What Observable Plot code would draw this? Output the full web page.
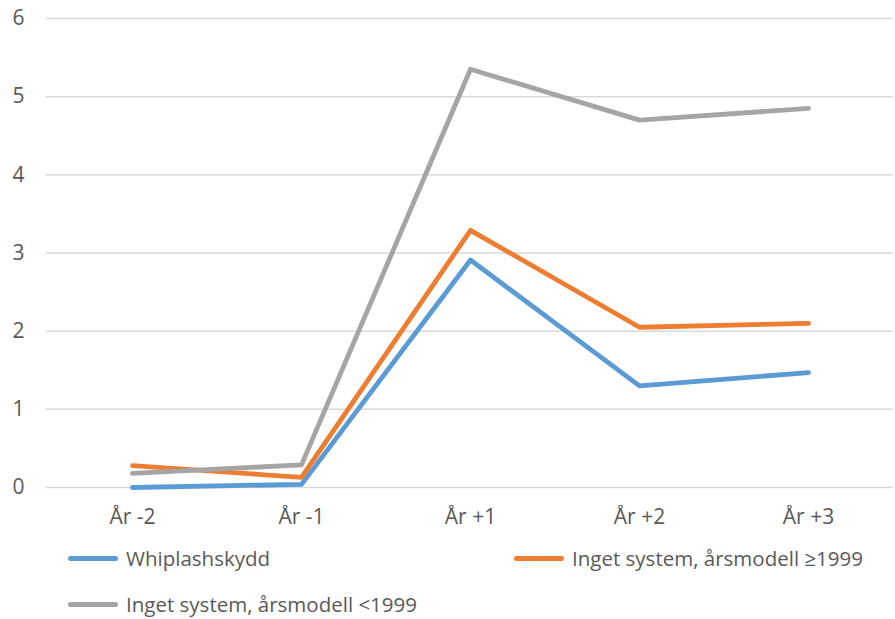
<!DOCTYPE html>
<html>
<head>
<meta charset="utf-8">
<script src="https://cdn.jsdelivr.net/npm/d3@7"></script>
<script src="https://cdn.jsdelivr.net/npm/@observablehq/plot@0.6"></script>
<style>
  body { margin: 0; background: #fff; font-family: "Open Sans", sans-serif; }
  #wrap { position: relative; width: 895px; height: 619px; }
  .leg { position: absolute; display: flex; align-items: center; font-size: 20.5px; line-height: 22px; height: 22px; color: #595959; white-space: nowrap; }
  .sw { width: 50px; height: 5px; border-radius: 3px; margin-right: 8px; }
</style>
</head>
<body>
<div id="wrap"></div>
<script>
const categories = ["År -2", "År -1", "År +1", "År +2", "År +3"];
const seriesNames = ["Whiplashskydd", "Inget system, årsmodell ≥1999", "Inget system, årsmodell <1999"];
const whiplash = [0.00, 0.04, 2.91, 1.30, 1.47];
const ingetNy = [0.28, 0.13, 3.29, 2.05, 2.10];
const ingetGammal = [0.18, 0.29, 5.35, 4.70, 4.85];
const colors = ["#5B9BD5", "#ED7D31", "#A5A5A5"];
const yTicks = [0, 1, 2, 3, 4, 5, 6];

const values = [whiplash, ingetNy, ingetGammal];
const data = [];
values.forEach((arr, si) => arr.forEach((v, i) => data.push({cat: categories[i], value: v, series: seriesNames[si]})));

const chart = Plot.plot({
  width: 895,
  height: 540,
  marginTop: 18,
  marginBottom: 53,
  marginLeft: 46,
  marginRight: 2,
  style: { fontFamily: "Open Sans, sans-serif", fontSize: "21px", color: "#595959", background: "transparent", overflow: "visible" },
  x: { type: "point", domain: categories, padding: 0.5, label: null },
  y: { domain: [0, 6], ticks: yTicks, label: null },
  color: { domain: seriesNames, range: colors },
  marks: [
    Plot.gridY(yTicks, { stroke: "#D9D9D9", strokeOpacity: 1, strokeWidth: 1.5 }),
    Plot.axisY(yTicks, { tickSize: 0, tickPadding: 22, tickFormat: d3.format("d"), fill: "#595959", fontSize: 21, label: null }),
    Plot.axisX({ tickSize: 0, tickPadding: 22, fill: "#595959", fontSize: 21, label: null }),
    Plot.line(data, { x: "cat", y: "value", z: "series", stroke: "series", strokeWidth: 4.8, strokeLinecap: "round", strokeLinejoin: "round" })
  ]
});
const wrap = document.getElementById("wrap");
chart.style.position = "absolute";
chart.style.left = "0";
chart.style.top = "0";
wrap.appendChild(chart);

const legPos = [[68, 547], [514, 547], [68, 593]];
seriesNames.forEach((name, i) => {
  const d = document.createElement("div");
  d.className = "leg";
  d.style.left = legPos[i][0] + "px";
  d.style.top = legPos[i][1] + "px";
  d.innerHTML = `<span class="sw" style="background:${colors[i]}"></span><span>${name}</span>`;
  wrap.appendChild(d);
});
</script>
</body>
</html>
